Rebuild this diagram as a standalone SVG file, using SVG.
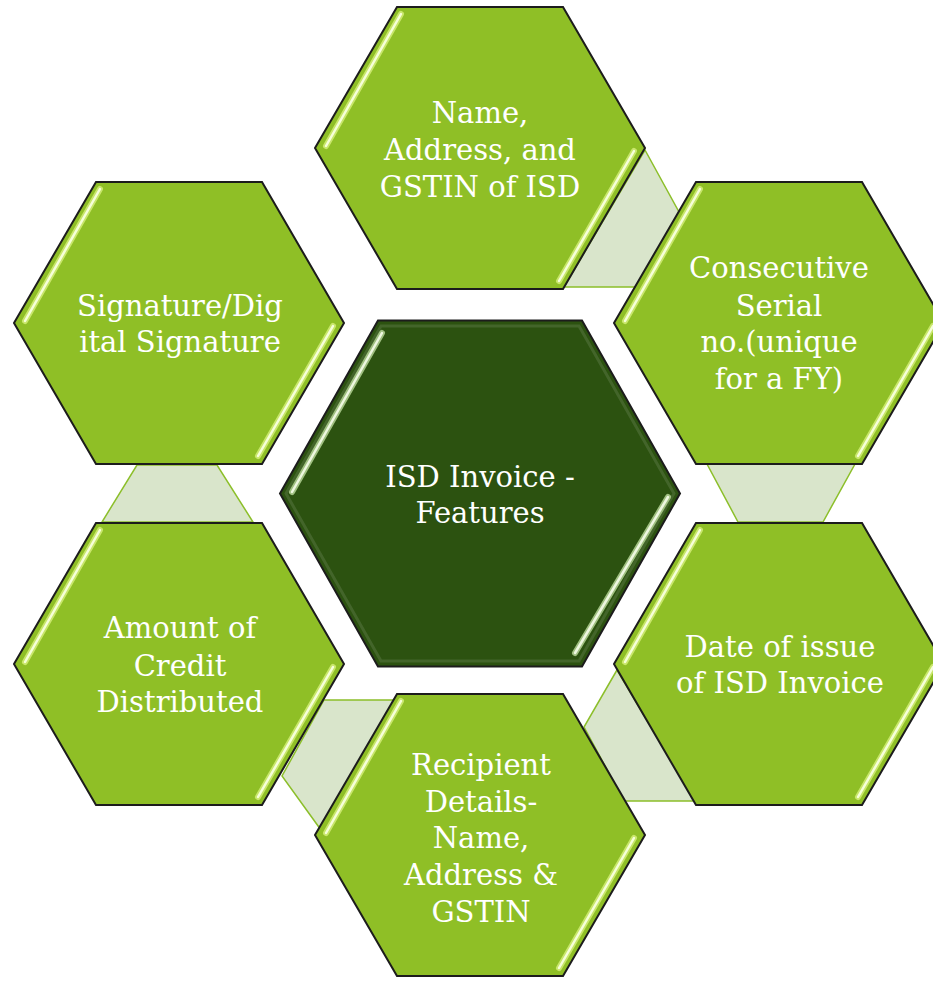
<svg xmlns="http://www.w3.org/2000/svg" xmlns:xlink="http://www.w3.org/1999/xlink" width="933" height="981" viewBox="0 0 933 981">
<defs>
<style>
.hex{fill:#8fbf26;stroke:#1c1c1c;stroke-width:2;stroke-linejoin:miter}
.chex{fill:#2c5210;stroke:#1c1c1c;stroke-width:2}
.conn{fill:#d9e5cb;stroke:#8cbf2a;stroke-width:1.5}
.hlo{stroke:#c8e66a;stroke-width:6;stroke-linecap:round;fill:none}
.hli{stroke:#f6ffd9;stroke-width:2.5;stroke-linecap:round;fill:none}
.chlo{stroke:#9fbf80;stroke-width:6;stroke-linecap:round;fill:none}
.chli{stroke:#eef7e0;stroke-width:2.5;stroke-linecap:round;fill:none}
.t{font-family:"DejaVu Serif","Liberation Serif",serif;font-size:29px;fill:#ffffff;text-anchor:middle}
</style>
<polygon id="h" points="-165,0 -83,-141 83,-141 165,0 83,141 -83,141"/>
<g id="hl">
<line class="hlo" x1="-79" y1="-134" x2="-154" y2="-2"/>
<line class="hli" x1="-79" y1="-134" x2="-154" y2="-2"/>
<line class="hlo" x1="154" y1="3" x2="79" y2="133"/>
<line class="hli" x1="154" y1="3" x2="79" y2="133"/>
</g>
</defs>
<rect width="933" height="981" fill="#ffffff"/>
<g id="connectors">
<polygon class="conn" points="645,150 679,212 637,287 564,287"/>
<polygon class="conn" points="707,464 855,464 823,522 738,522"/>
<polygon class="conn" points="617,670 584,727 624,801 695,801"/>
<polygon class="conn" points="324,700 395,700 321,830 282,776"/>
<polygon class="conn" points="137,465 217,465 253,522 102,522"/>
</g>
<g id="node-center">
<polygon class="chex" points="280,493.5 378,320.5 582,320.5 680,493.5 582,666.5 378,666.5"/>
<polygon points="286,493.5 381,326 579,326 674,493.5 579,661 381,661" fill="none" stroke="#6f8a5c" stroke-width="3" stroke-opacity="0.35"/>
<line class="chlo" x1="382" y1="333" x2="292" y2="492"/>
<line class="chli" x1="382" y1="333" x2="292" y2="492"/>
<line class="chlo" x1="668" y1="497" x2="575" y2="653"/>
<line class="chli" x1="668" y1="497" x2="575" y2="653"/>
<text class="t" x="480" y="487">ISD Invoice -</text>
<text class="t" x="480" y="523">Features</text>
</g>
<g id="node-name">
<use xlink:href="#h" class="hex" transform="translate(480,148)"/>
<use xlink:href="#hl" transform="translate(480,148)"/>
<text class="t" x="480" y="123">Name,</text>
<text class="t" x="480" y="160">Address, and</text>
<text class="t" x="480" y="197">GSTIN of ISD</text>
</g>
<g id="node-serial">
<use xlink:href="#h" class="hex" transform="translate(779,323)"/>
<use xlink:href="#hl" transform="translate(779,323)"/>
<text class="t" x="779" y="278">Consecutive</text>
<text class="t" x="779" y="316">Serial</text>
<text class="t" x="779" y="352">no.(unique</text>
<text class="t" x="779" y="389">for a FY)</text>
</g>
<g id="node-date">
<use xlink:href="#h" class="hex" transform="translate(779,664)"/>
<use xlink:href="#hl" transform="translate(779,664)"/>
<text class="t" x="780" y="657">Date of issue</text>
<text class="t" x="780" y="693">of ISD Invoice</text>
</g>
<g id="node-recipient">
<use xlink:href="#h" class="hex" transform="translate(480,835)"/>
<use xlink:href="#hl" transform="translate(480,835)"/>
<text class="t" x="481" y="775">Recipient</text>
<text class="t" x="481" y="812">Details-</text>
<text class="t" x="481" y="848">Name,</text>
<text class="t" x="481" y="885">Address &amp;</text>
<text class="t" x="481" y="922">GSTIN</text>
</g>
<g id="node-amount">
<use xlink:href="#h" class="hex" transform="translate(179,664)"/>
<use xlink:href="#hl" transform="translate(179,664)"/>
<text class="t" x="180" y="638">Amount of</text>
<text class="t" x="180" y="676">Credit</text>
<text class="t" x="180" y="712">Distributed</text>
</g>
<g id="node-signature">
<use xlink:href="#h" class="hex" transform="translate(179,323)"/>
<use xlink:href="#hl" transform="translate(179,323)"/>
<text class="t" x="180" y="316">Signature/Dig</text>
<text class="t" x="180" y="352">ital Signature</text>
</g>
</svg>
